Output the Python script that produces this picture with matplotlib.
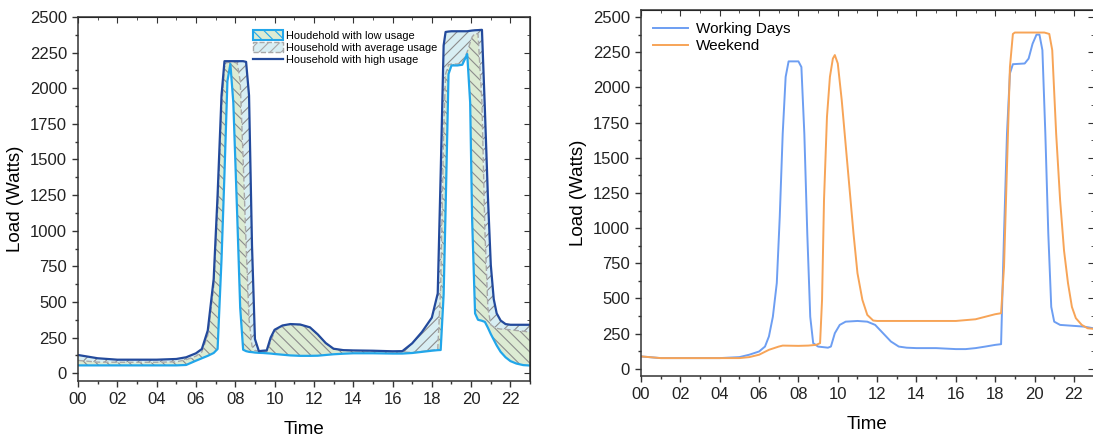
import matplotlib
matplotlib.use("Agg")
import matplotlib.pyplot as plt
from matplotlib.ticker import MultipleLocator, FuncFormatter
from matplotlib.patches import Patch
from matplotlib.lines import Line2D

plt.rcParams['font.family'] = ['Liberation Sans', 'DejaVu Sans']
plt.rcParams['hatch.linewidth'] = 0.8

# ---- left chart: household profiles (hours, watts)
hours = [0, 1, 2, 3, 4, 5, 5.5, 6, 6.3, 6.6, 6.9, 7.1, 7.3, 7.45, 7.6, 7.75, 7.9, 8.1,
         8.25, 8.4, 8.55, 8.7, 8.85, 9.0, 9.2, 9.4, 9.6, 9.8, 10.0, 10.4, 10.8, 11.3,
         11.8, 12.2, 12.6, 13.0, 13.5, 14, 15, 16, 16.5, 17, 17.5, 18, 18.3, 18.45,
         18.6, 18.7, 18.85, 19.0, 19.3, 19.55, 19.8, 19.95, 20.05, 20.2, 20.35, 20.55,
         20.7, 20.85, 21.0, 21.15, 21.3, 21.5, 21.75, 22, 22.3, 22.65, 23]
low_usage = [55, 55, 55, 55, 55, 55, 58, 88, 105, 122, 142, 170, 800, 1400, 2050, 2170,
             1900, 1100, 460, 165, 155, 150, 148, 145, 143, 142, 140, 138, 135, 130, 125,
             122, 122, 123, 128, 133, 137, 140, 140, 138, 138, 142, 150, 158, 162, 163,
             550, 1150, 2100, 2160, 2160, 2165, 2240, 1900, 1080, 420, 375, 368, 360,
             320, 275, 235, 195, 150, 112, 85, 68, 57, 54]
avg_usage = [90, 78, 77, 77, 77, 80, 95, 120, 150, 265, 600, 1150, 1850, 2150, 2185, 2185,
             2185, 2175, 2050, 1500, 900, 380, 190, 160, 155, 152, 152, 220, 295, 333, 342,
             340, 320, 270, 210, 170, 160, 158, 156, 152, 150, 145, 153, 162, 166, 600,
             1700, 2100, 2165, 2170, 2170, 2175, 2255, 2320, 2360, 2385, 2380, 1900, 1000,
             460, 340, 325, 315, 310, 308, 305, 300, 295, 288]
high_usage = [128, 105, 95, 95, 95, 100, 112, 140, 170, 300, 660, 1250, 1950, 2190, 2190,
              2190, 2190, 2190, 2190, 2190, 2185, 1950, 900, 240, 155, 158, 160, 250, 305,
              335, 345, 342, 322, 272, 212, 172, 162, 160, 158, 154, 155, 210, 290, 390,
              560, 1400, 2300, 2395, 2398, 2400, 2400, 2400, 2400, 2403, 2405, 2407, 2408,
              2410, 1850, 1250, 760, 520, 420, 370, 345, 340, 340, 340, 340]

# ---- right chart: working days vs weekend
wd_hours = [0, 1, 2, 3, 4, 5, 5.5, 6, 6.3, 6.5, 6.7, 6.9, 7.05, 7.2, 7.35, 7.5, 8.0, 8.15,
            8.3, 8.45, 8.6, 8.75, 9.0, 9.5, 9.65, 9.85, 10.1, 10.4, 11, 11.5, 11.9, 12.3,
            12.7, 13.1, 13.5, 14, 15, 16, 16.5, 17, 17.5, 18, 18.3, 18.45, 18.6, 18.75,
            18.9, 19.5, 19.7, 19.9, 20.1, 20.25, 20.4, 20.55, 20.7, 20.85, 21.0, 21.3, 22,
            22.5, 23]
working_days = [88, 76, 76, 76, 76, 83, 100, 123, 158, 230, 370, 610, 1080, 1670, 2075,
                2185, 2185, 2145, 1670, 960, 370, 182, 158, 150, 158, 253, 312, 335, 340,
                335, 312, 253, 194, 158, 150, 147, 147, 140, 140, 147, 158, 170, 175, 960,
                1670, 2100, 2165, 2170, 2205, 2310, 2375, 2375, 2265, 1670, 960, 440, 335,
                312, 305, 300, 288]
we_hours = [0, 1, 2, 3, 4, 5, 5.5, 6, 6.5, 7, 7.2, 8, 8.5, 8.9, 9.1, 9.2, 9.3, 9.45, 9.6,
            9.75, 9.85, 10.0, 10.2, 10.5, 10.8, 11.0, 11.25, 11.5, 11.8, 12, 13, 16, 17,
            17.5, 18, 18.3, 18.45, 18.6, 18.75, 18.9, 19, 20.5, 20.75, 20.9, 21.1, 21.3,
            21.5, 21.7, 21.9, 22.1, 22.4, 22.7, 23]
weekend = [88, 76, 76, 76, 76, 76, 83, 100, 135, 158, 165, 163, 165, 170, 182, 490, 1200,
           1790, 2075, 2205, 2230, 2170, 1910, 1435, 960, 680, 490, 383, 343, 340, 340, 340,
           352, 370, 388, 395, 725, 1435, 2145, 2380, 2390, 2390, 2380, 2265, 1670, 1200,
           840, 610, 440, 360, 312, 288, 284]

x_ticks = list(range(0, 23, 2))
y_ticks = list(range(0, 2501, 250))

LOW_C = '#21a6ea'
HIGH_C = '#234a9c'
AVG_C = '#a8a8a8'
GREEN_F = '#dcebd3'
BLUE_F = '#d8eef3'
HATCH_C = '#8c8c8c'


def style_axes(ax):
    ax.set_xlim(0, 23)
    ax.set_xticks(x_ticks)
    ax.xaxis.set_major_formatter(FuncFormatter(lambda v, p: '%02d' % int(v)))
    ax.xaxis.set_minor_locator(MultipleLocator(1))
    ax.set_yticks(y_ticks)
    ax.yaxis.set_minor_locator(MultipleLocator(125))
    ax.tick_params(which='major', direction='out', length=4.5, width=1, labelsize=12,
                   color='#333333', labelcolor='#222222')
    ax.tick_params(which='minor', direction='out', length=2.5, width=1, color='#333333')
    for s in ax.spines.values():
        s.set_color('#333333')
        s.set_linewidth(1.1)
    # mirrored ticks on top and right, pointing inward
    top = ax.secondary_xaxis('top')
    top.set_xticks(x_ticks)
    top.xaxis.set_minor_locator(MultipleLocator(1))
    top.tick_params(which='major', direction='in', length=4.5, labeltop=False, color='#333333')
    top.tick_params(which='minor', direction='in', length=2.5, color='#333333')
    right = ax.secondary_yaxis('right')
    right.set_yticks(y_ticks)
    right.yaxis.set_minor_locator(MultipleLocator(125))
    right.tick_params(which='major', direction='in', length=4.5, labelright=False, color='#333333')
    right.tick_params(which='minor', direction='in', length=2.5, color='#333333')
    ax.set_xlabel('Time', fontsize=13.5, labelpad=10)
    ax.set_ylabel('Load (Watts)', fontsize=13.5, labelpad=4)


fig = plt.figure(figsize=(10.93, 4.36), dpi=100)
ax1 = fig.add_axes([0.0714, 0.126, 0.4136, 0.835])
ax2 = fig.add_axes([0.5865, 0.138, 0.414, 0.839])

# left: hatched bands between the three profiles
ax1.fill_between(hours, low_usage, avg_usage, facecolor=GREEN_F, edgecolor=HATCH_C,
                 hatch='\\\\\\', linewidth=0)
ax1.fill_between(hours, avg_usage, high_usage, facecolor=BLUE_F, edgecolor=HATCH_C,
                 hatch='///', linewidth=0)
ax1.plot(hours, avg_usage, color=AVG_C, lw=1.0, ls=(0, (4, 2)))
ax1.plot(hours, low_usage, color=LOW_C, lw=1.6)
ax1.plot(hours, high_usage, color=HIGH_C, lw=1.6)
ax1.set_ylim(-55, 2500)
style_axes(ax1)

handles = [
    Patch(facecolor=GREEN_F, edgecolor=LOW_C, hatch='\\\\\\', linewidth=1.5),
    Patch(facecolor=BLUE_F, edgecolor=AVG_C, hatch='///', linewidth=1.0, linestyle='--'),
    Line2D([], [], color=HIGH_C, lw=1.6),
]
ax1.legend(handles, ['Houdehold with low usage', 'Household with average usage',
                     'Household with high usage'],
           loc='upper left', bbox_to_anchor=(0.37, 0.985), frameon=False, fontsize=7.9,
           handlelength=2.7, handleheight=1.0, handletextpad=0.3, labelspacing=0.15,
           borderpad=0.2)

# right: working days vs weekend
ax2.plot(wd_hours, working_days, color='#6d9ef2', lw=1.4, label='Working Days')
ax2.plot(we_hours, weekend, color='#f7a457', lw=1.4, label='Weekend')
ax2.set_ylim(-50, 2550)
style_axes(ax2)
ax2.legend(loc='upper left', bbox_to_anchor=(0.0, 1.0), frameon=False, fontsize=11,
           handlelength=2.3, handletextpad=0.5, labelspacing=0.2, borderpad=0.3)

fig.savefig('out.png', dpi=100)
